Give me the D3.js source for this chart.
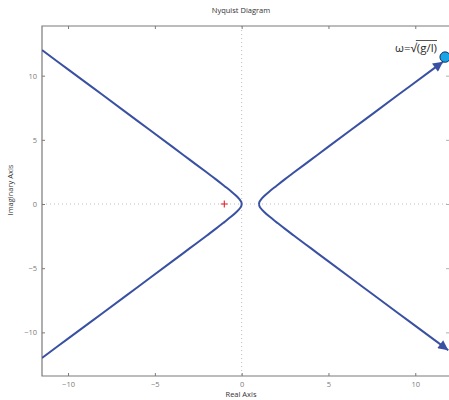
<!DOCTYPE html>
<html>
<head>
<meta charset="utf-8">
<script src="https://cdn.jsdelivr.net/npm/d3@7"></script>
<style>
  html, body { margin: 0; padding: 0; background: #fff; }
  svg { display: block; font-family: "Open Sans", "Noto Sans", sans-serif; }
</style>
</head>
<body>
<svg id="chart" width="449" height="400"></svg>
<script>
// Nyquist locus, branch through the origin (top-left -> vertex -> bottom-left)
const leftRe = [-11.5, -10, -8, -6, -4, -3, -2, -1.5, -1, -0.6, -0.3, -0.1, -0.03, 0,
                -0.03, -0.1, -0.3, -0.6, -1, -1.5, -2, -3, -4, -6, -8, -10, -11.5];
const leftIm = [11.99, 10.49, 8.49, 6.48, 4.47, 3.46, 2.45, 1.94, 1.41, 0.98, 0.62, 0.33, 0.18, 0,
                -0.18, -0.33, -0.62, -0.98, -1.41, -1.94, -2.45, -3.46, -4.47, -6.48, -8.49, -10.49, -11.99];

// Right branch, upper half (vertex -> frequency marker)
const upperRe = [1, 1.03, 1.1, 1.3, 1.6, 2, 2.5, 3, 4, 5, 7, 9, 11, 11.6];
const upperIm = [0, 0.18, 0.33, 0.62, 0.98, 1.41, 1.94, 2.45, 3.46, 4.47, 6.48, 8.49, 10.49, 11.09];

// Right branch, lower half (vertex -> bottom right)
const lowerRe = [1, 1.03, 1.1, 1.3, 1.6, 2, 2.5, 3, 4, 5, 7, 9, 11, 11.9];
const lowerIm = [0, -0.18, -0.33, -0.62, -0.98, -1.41, -1.94, -2.45, -3.46, -4.47, -6.48, -8.49, -10.49, -11.39];

// Critical point and the marked frequency
const criticalPoint = [-1, 0];
const markerPoint = [11.72, 11.45];
const markerLabel = ["ω=√", "(g/l)"];

const xTicks = [-10, -5, 0, 5, 10];
const yTicks = [-10, -5, 0, 5, 10];
const xDomain = [-11.5, 12];
const yDomain = [-13.4, 13.87];

const title = "Nyquist Diagram";
const xLabel = "Real Axis";
const yLabel = "Imaginary Axis";

const svg = d3.select("#chart");
const plot = { left: 42, right: 450, top: 26, bottom: 376 };

const x = d3.scaleLinear().domain(xDomain).range([plot.left, plot.right]);
const y = d3.scaleLinear().domain(yDomain).range([plot.bottom, plot.top]);

const lineColor = "#3a51a3";
const axisColor = "#7a7a7a";
const labelColor = "#7a7a7a";

svg.append("defs").append("clipPath").attr("id", "clip")
  .append("rect")
  .attr("x", plot.left).attr("y", plot.top)
  .attr("width", plot.right - plot.left).attr("height", plot.bottom - plot.top);

const marker = svg.select("defs").append("marker")
  .attr("id", "arrow")
  .attr("viewBox", "0 0 10 10")
  .attr("refX", 10).attr("refY", 5)
  .attr("markerWidth", 12).attr("markerHeight", 10)
  .attr("markerUnits", "userSpaceOnUse")
  .attr("orient", "auto");
marker.append("path").attr("d", "M0,0 L10,5 L0,10 Z").attr("fill", lineColor);

// Dotted zero lines
svg.append("line")
  .attr("x1", x(0)).attr("x2", x(0)).attr("y1", plot.top).attr("y2", plot.bottom)
  .attr("stroke", "#bdbdbd").attr("stroke-width", 1).attr("stroke-dasharray", "1,3");
svg.append("line")
  .attr("x1", plot.left).attr("x2", plot.right).attr("y1", y(0)).attr("y2", y(0))
  .attr("stroke", "#bdbdbd").attr("stroke-width", 1).attr("stroke-dasharray", "1,3");

// Axes: ticks point inward, frame drawn separately
const fontSize = 7.5;
const bottomAxis = svg.append("g").attr("transform", `translate(0,${plot.bottom})`)
  .call(d3.axisBottom(x).tickValues(xTicks).tickSizeInner(-3).tickSizeOuter(0).tickPadding(6)
    .tickFormat(d => d < 0 ? "\u2212" + Math.abs(d) : d));
const topAxis = svg.append("g").attr("transform", `translate(0,${plot.top})`)
  .call(d3.axisTop(x).tickValues(xTicks).tickSizeInner(-3).tickSizeOuter(0).tickFormat(""));
const leftAxis = svg.append("g").attr("transform", `translate(${plot.left},0)`)
  .call(d3.axisLeft(y).tickValues(yTicks).tickSizeInner(-3).tickSizeOuter(0).tickPadding(5)
    .tickFormat(d => d < 0 ? "\u2212" + Math.abs(d) : d));
const rightAxis = svg.append("g").attr("transform", `translate(${plot.right - 1},0)`)
  .call(d3.axisRight(y).tickValues(yTicks).tickSizeInner(-3).tickSizeOuter(0).tickFormat(""));

[bottomAxis, topAxis, leftAxis, rightAxis].forEach(g => {
  g.select(".domain").remove();
  g.selectAll(".tick line").attr("stroke", axisColor);
  g.selectAll(".tick text").attr("fill", labelColor).attr("font-size", fontSize)
    .attr("font-family", "Open Sans, Noto Sans, sans-serif");
});
rightAxis.selectAll(".tick line").attr("stroke", "#b0b0b0");

// Frame
svg.append("path")
  .attr("d", `M${plot.right},${plot.top} H${plot.left} V${plot.bottom} H${plot.right}`)
  .attr("fill", "none").attr("stroke", axisColor).attr("stroke-width", 1.2);

// Nyquist curves
const line = d3.line().x(d => x(d[0])).y(d => y(d[1])).curve(d3.curveCatmullRom.alpha(0.5));
const curves = svg.append("g").attr("clip-path", "url(#clip)");
const zip = (a, b) => a.map((v, i) => [v, b[i]]);

curves.append("path").datum(zip(leftRe, leftIm))
  .attr("d", line).attr("fill", "none").attr("stroke", lineColor).attr("stroke-width", 2);
svg.append("path").datum(zip(upperRe, upperIm))
  .attr("d", line).attr("fill", "none").attr("stroke", lineColor).attr("stroke-width", 2)
  .attr("marker-end", "url(#arrow)");
svg.append("path").datum(zip(lowerRe, lowerIm))
  .attr("d", line).attr("fill", "none").attr("stroke", lineColor).attr("stroke-width", 2)
  .attr("marker-end", "url(#arrow)");

// Critical point -1 + 0j
const cx = x(criticalPoint[0]), cy = y(criticalPoint[1]);
svg.append("path")
  .attr("d", `M${cx - 3.5},${cy} H${cx + 3.5} M${cx},${cy - 3.5} V${cy + 3.5}`)
  .attr("stroke", "#e8202a").attr("stroke-width", 1.1);

// Frequency marker
svg.append("circle")
  .attr("cx", x(markerPoint[0])).attr("cy", y(markerPoint[1]))
  .attr("r", 5.2).attr("fill", "#17a5e6").attr("stroke", "#1d2c63").attr("stroke-width", 1);

const ann = svg.append("text")
  .attr("x", 437).attr("y", 52).attr("text-anchor", "end")
  .attr("font-size", 11.5).attr("fill", "#2a2a2a");
ann.append("tspan").text(markerLabel[0]);
const over = ann.append("tspan").text(markerLabel[1]);
const bb = over.node().getBBox();
svg.append("line")
  .attr("x1", bb.x - 1).attr("x2", bb.x + bb.width)
  .attr("y1", bb.y + 0.5).attr("y2", bb.y + 0.5)
  .attr("stroke", "#2a2a2a").attr("stroke-width", 0.8);

// Titles
svg.append("text").attr("x", 241).attr("y", 13).attr("text-anchor", "middle")
  .attr("font-size", 7.5).attr("fill", "#333").text(title);
svg.append("text").attr("x", 241).attr("y", 397).attr("text-anchor", "middle")
  .attr("font-size", 7.5).attr("fill", "#333").text(xLabel);
svg.append("text").attr("transform", "translate(13,190) rotate(-90)").attr("text-anchor", "middle")
  .attr("font-size", 7.5).attr("fill", "#333").text(yLabel);
</script>
</body>
</html>
